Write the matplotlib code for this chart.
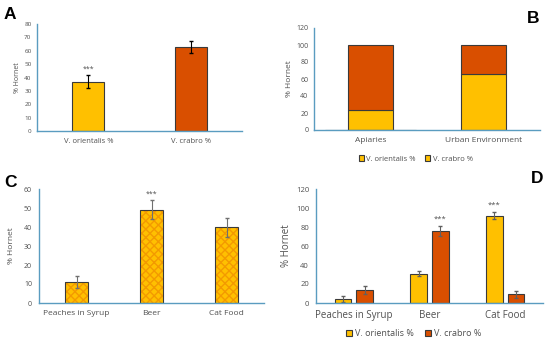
import numpy as np
import matplotlib
matplotlib.use("Agg")
import matplotlib.pyplot as plt

plt.rcParams['font.family'] = ['Open Sans', 'DejaVu Sans']

# panel A
a_cats = ["V. orientalis %", "V. crabro %"]
a_vals = [37, 63]
a_err = [5, 4.5]

# panel B
b_cats = ["Apiaries", "Urban Environment"]
b_orient = [24, 66]
b_crabro = [76, 34]

# panel C
c_cats = ["Peaches in Syrup", "Beer", "Cat Food"]
c_vals = [11, 49, 40]
c_err = [3, 5, 5]

# panel D
d_cats = ["Peaches in Syrup", "Beer", "Cat Food"]
d_orient = [4, 31, 92]
d_orient_err = [3, 3, 4]
d_crabro = [14, 76, 9]
d_crabro_err = [4, 5, 4]

YEL = '#FFC000'
ORG = '#D94F00'
EDGE = '#3a3a3a'
SPINE = '#5a9cc0'
TXT = '#505050'

W, H = 550, 340
fig = plt.figure(figsize=(5.5, 3.4), dpi=100)


def make_ax(l, r, t, b):
    ax = fig.add_axes([l / W, 1 - b / H, (r - l) / W, (b - t) / H])
    for s in ['top', 'right']:
        ax.spines[s].set_visible(False)
    ax.spines['left'].set_color(SPINE)
    ax.spines['bottom'].set_color(SPINE)
    ax.spines['left'].set_linewidth(1.0)
    ax.spines['bottom'].set_linewidth(1.0)
    ax.tick_params(length=0, colors=TXT)
    return ax


def letter(s, x, y):
    # x, y = left / baseline in pixels
    fig.text(x / W, 1 - y / H, s, fontsize=12.5, fontweight='bold',
             family=['Liberation Sans', 'DejaVu Sans'], va='baseline')


# A
ax = make_ax(37, 242, 24, 131)
x = np.arange(len(a_cats))
ax.bar(x, a_vals, width=0.31, color=[YEL, ORG], edgecolor=EDGE, linewidth=0.8)
ax.errorbar(x, a_vals, yerr=a_err, fmt='none', ecolor='black', elinewidth=0.8, capsize=1.5)
ax.text(x[0], a_vals[0] + a_err[0] + 1.5, '***', ha='center', va='bottom', fontsize=5, color=TXT)
ax.set_xlim(-0.5, 1.5)
ax.set_ylim(0, 80)
ax.set_yticks(range(0, 81, 10))
ax.set_xticks(x, a_cats)
ax.tick_params(axis='y', labelsize=4.5, pad=4)
ax.tick_params(axis='x', labelsize=5.5, pad=5)
ax.set_ylabel('% Hornet', fontsize=5, color=TXT, labelpad=2)
letter('A', 4, 19)

# B
ax = make_ax(314, 540, 28, 130)
x = np.arange(len(b_cats))
ax.bar(x, b_orient, width=0.39, color=YEL, edgecolor=EDGE, linewidth=0.8, label='V. orientalis %')
ax.bar(x, b_crabro, width=0.39, bottom=b_orient, color=ORG, edgecolor=EDGE, linewidth=0.8)
# legend in original shows both entries in yellow
ax.bar([0], [0], color=YEL, edgecolor=EDGE, linewidth=0.8, label='V. crabro %')
ax.set_xlim(-0.5, 1.5)
ax.set_ylim(0, 120)
ax.set_yticks(range(0, 121, 20))
ax.set_xticks(x, b_cats)
ax.tick_params(axis='y', labelsize=5, pad=4)
ax.tick_params(axis='x', labelsize=6, pad=5)
ax.set_ylabel('% Hornet', fontsize=6, color=TXT, labelpad=2)
ax.legend(loc='upper center', bbox_to_anchor=(0.45, -0.22), ncol=2, frameon=False,
          fontsize=5.5, labelcolor=TXT, handlelength=0.7, handleheight=0.7,
          handletextpad=0.3, columnspacing=1.2, borderaxespad=0)
letter('B', 527, 23)

# C
ax = make_ax(39, 264, 189, 303)
x = np.arange(len(c_cats))
ax.bar(x, c_vals, width=0.31, color=YEL, edgecolor='#F39A00', linewidth=0, hatch='xxxx')
ax.bar(x, c_vals, width=0.31, fill=False, edgecolor=EDGE, linewidth=0.8)
ax.errorbar(x, c_vals, yerr=c_err, fmt='none', ecolor='#707070', elinewidth=0.8, capsize=1.5)
ax.text(x[1], c_vals[1] + c_err[1] + 1.2, '***', ha='center', va='bottom', fontsize=5, color=TXT)
ax.set_xlim(-0.5, 2.5)
ax.set_ylim(0, 60)
ax.set_yticks(range(0, 61, 10))
ax.set_xticks(x, c_cats)
ax.tick_params(axis='y', labelsize=5, pad=5)
ax.tick_params(axis='x', labelsize=6, pad=5)
ax.set_ylabel('% Hornet', fontsize=6, color=TXT, labelpad=6)
letter('C', 4, 187)

# D
ax = make_ax(316, 543, 189, 303)
x = np.arange(len(d_cats))
off = 0.145
bw = 0.22
ax.bar(x - off, d_orient, width=bw, color=YEL, edgecolor=EDGE, linewidth=0.8, label='V. orientalis %')
ax.bar(x + off, d_crabro, width=bw, color=ORG, edgecolor=EDGE, linewidth=0.8, label='V. crabro %')
ax.errorbar(x - off, d_orient, yerr=d_orient_err, fmt='none', ecolor='#606060', elinewidth=0.8, capsize=1.5)
ax.errorbar(x + off, d_crabro, yerr=d_crabro_err, fmt='none', ecolor='#606060', elinewidth=0.8, capsize=1.5)
ax.text(x[1] + off, d_crabro[1] + d_crabro_err[1] + 3, '***', ha='center', va='bottom', fontsize=5.5, color=TXT)
ax.text(x[2] - off, d_orient[2] + d_orient_err[2] + 3, '***', ha='center', va='bottom', fontsize=5.5, color=TXT)
ax.set_xlim(-0.5, 2.5)
ax.set_ylim(0, 120)
ax.set_yticks(range(0, 121, 20))
ax.set_xticks(x, d_cats)
ax.tick_params(axis='y', labelsize=5.5, pad=5)
ax.tick_params(axis='x', labelsize=7, pad=5)
ax.set_ylabel('% Hornet', fontsize=7, color=TXT, labelpad=3)
ax.legend(loc='upper center', bbox_to_anchor=(0.43, -0.2), ncol=2, frameon=False,
          fontsize=6.5, labelcolor=TXT, handlelength=0.7, handleheight=0.7,
          handletextpad=0.3, columnspacing=1.2, borderaxespad=0)
letter('D', 531, 183)

fig.savefig('out.png', dpi=100)
